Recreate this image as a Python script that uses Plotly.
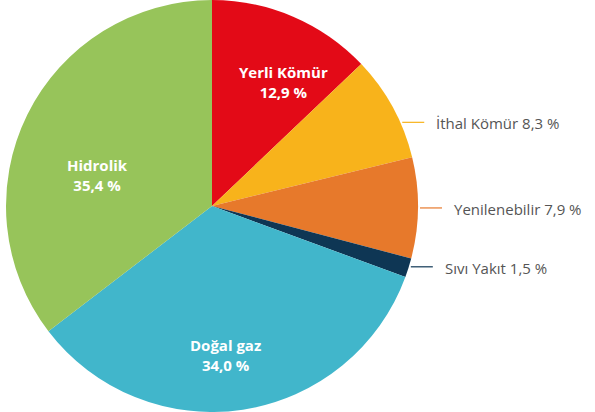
import math
import plotly.graph_objects as go

labels = ["Yerli Kömür", "İthal Kömür", "Yenilenebilir", "Sıvı Yakıt", "Doğal gaz", "Hidrolik"]
values = [12.9, 8.3, 7.9, 1.5, 34.0, 35.4]
value_text = ["12,9 %", "8,3 %", "7,9 %", "1,5 %", "34,0 %", "35,4 %"]
colors = ["#E30A17", "#F8B31B", "#E7792B", "#0E3654", "#41B6CB", "#97C45A"]
outside = [False, True, True, True, False, False]

# layout (pixel) positions for the labels
inside_pos = {"Yerli Kömür": (283, 82), "Doğal gaz": (225, 355), "Hidrolik": (97, 175)}
outside_dy = {"İthal Kömür": 15, "Yenilenebilir": 0, "Sıvı Yakıt": -1}

W, H = 595, 412
cx, cy = 212, 206
R = 206
dom_x = [(cx - R) / W, (cx + R) / W]
dom_y = [0, 1]

fig = go.Figure(go.Pie(
    labels=labels, values=values, textinfo="none",
    sort=False, direction="clockwise", rotation=0,
    marker=dict(colors=colors, line=dict(width=0)),
    domain=dict(x=dom_x, y=dom_y), showlegend=False, hoverinfo="label+percent",
))

total = sum(values)
cum = 0
for l, v, t, o, c in zip(labels, values, value_text, outside, colors):
    mid = (cum + v / 2) / total * 2 * math.pi
    cum += v
    if not o:
        px, py = inside_pos[l]
        fig.add_annotation(xref="paper", yref="paper", x=px / W, y=1 - py / H,
                           text=f"<b>{l}<br>{t}</b>", showarrow=False,
                           xanchor="center", yanchor="middle", align="center",
                           font=dict(family="Open Sans", size=15, color="white"))
        continue
    ey = cy - R * math.cos(mid) + outside_dy[l]
    ex = cx + math.sqrt(max(R * R - (ey - cy) ** 2, 0))
    x0 = ex + 2
    x1 = x0 + 22
    fig.add_shape(type="line", xref="paper", yref="paper",
                  x0=x0 / W, x1=x1 / W, y0=1 - ey / H, y1=1 - ey / H,
                  line=dict(color=c, width=1.2))
    fig.add_annotation(xref="paper", yref="paper", x=(x1 + 10) / W, y=1 - (ey + 1) / H,
                       text=f"{l} {t}", showarrow=False, xanchor="left", yanchor="middle",
                       font=dict(family="Open Sans", size=15, color="#555555"))

fig.update_layout(width=W, height=H, margin=dict(l=0, r=0, t=0, b=0),
                  paper_bgcolor="white", plot_bgcolor="white")
fig.write_html("out.html")
